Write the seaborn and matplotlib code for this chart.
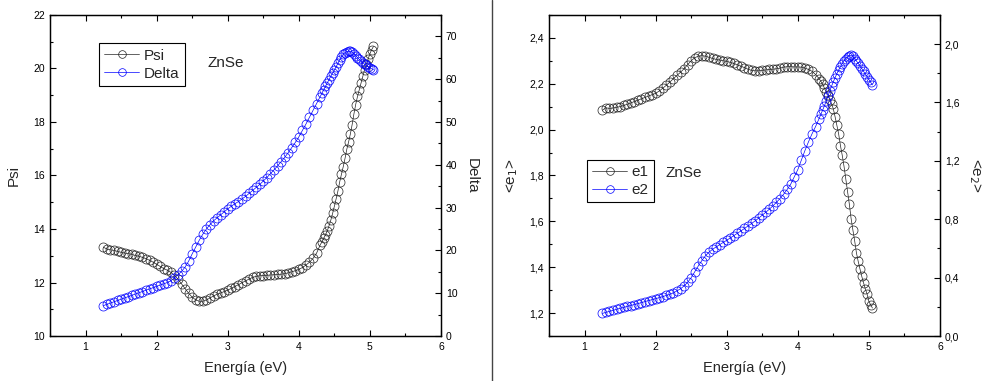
import matplotlib
matplotlib.use("Agg")
import matplotlib.pyplot as plt
from matplotlib.lines import Line2D
from matplotlib.ticker import MultipleLocator, FuncFormatter
import seaborn as sns

# photon energy grid (eV), shared by all four spectra
energy = [1.25, 1.30, 1.35, 1.40, 1.45, 1.50, 1.55, 1.60, 1.65, 1.70,
          1.75, 1.80, 1.85, 1.90, 1.95, 2.00, 2.05, 2.10, 2.15, 2.20,
          2.25, 2.30, 2.35, 2.40, 2.45, 2.50, 2.55, 2.60, 2.65, 2.70,
          2.75, 2.80, 2.85, 2.90, 2.95, 3.00, 3.05, 3.10, 3.15, 3.20,
          3.25, 3.30, 3.35, 3.40, 3.45, 3.50, 3.55, 3.60, 3.65, 3.70,
          3.75, 3.80, 3.85, 3.90, 3.95, 4.00, 4.05, 4.10, 4.15, 4.20,
          4.25, 4.30,
          4.325, 4.35, 4.375, 4.40, 4.425, 4.45, 4.475, 4.50, 4.525, 4.55,
          4.575, 4.60, 4.625, 4.65, 4.675, 4.70, 4.725, 4.75, 4.775, 4.80,
          4.825, 4.85, 4.875, 4.90, 4.925, 4.95, 4.975, 5.00, 5.025, 5.05]

psi = [13.32, 13.25, 13.22, 13.20, 13.16, 13.13, 13.10, 13.08, 13.05, 13.01,
       12.98, 12.94, 12.89, 12.83, 12.76, 12.68, 12.60, 12.52, 12.46, 12.38,
       12.27, 12.12, 11.95, 11.77, 11.60, 11.45, 11.35, 11.30, 11.30, 11.35,
       11.42, 11.50, 11.56, 11.61, 11.66, 11.72, 11.78, 11.85, 11.92, 11.99,
       12.06, 12.13, 12.19, 12.23, 12.25, 12.26, 12.27, 12.28, 12.29, 12.30,
       12.31, 12.33, 12.36, 12.40, 12.44, 12.49, 12.56, 12.65, 12.76, 12.90,
       13.10, 13.40,
       13.52, 13.65, 13.78, 13.93, 14.12, 14.33, 14.58, 14.85, 15.13, 15.42,
       15.76, 16.05, 16.33, 16.64, 16.98, 17.25, 17.55, 17.90, 18.30, 18.65,
       18.95, 19.20, 19.45, 19.70, 19.95, 20.15, 20.35, 20.55, 20.70, 20.82]

delta = [7.1, 7.4, 7.7, 8.0, 8.3, 8.6, 8.9, 9.2, 9.5, 9.8,
         10.1, 10.4, 10.7, 11.0, 11.3, 11.6, 11.9, 12.2, 12.5, 12.9,
         13.6, 14.3, 15.1, 16.1, 17.5, 19.2, 20.8, 22.4, 23.8, 25.0,
         26.0, 26.9, 27.6, 28.3, 29.0, 29.7, 30.3, 30.9, 31.4, 32.0,
         32.6, 33.3, 34.0, 34.7, 35.4, 36.2, 37.0, 37.9, 38.8, 39.7,
         40.7, 41.7, 42.8, 44.0, 45.2, 46.5, 48.0, 49.5, 51.1, 52.7,
         54.3, 55.9,
         56.7, 57.5, 58.3, 59.1, 59.9, 60.7, 61.4, 62.1, 62.9, 63.7,
         64.5, 65.2, 65.8, 66.2, 66.4, 66.5, 66.5, 66.3, 65.9, 65.5,
         65.0, 64.6, 64.2, 63.8, 63.5, 63.2, 62.9, 62.6, 62.4, 62.2]

e1 = [2.084, 2.095, 2.092, 2.094, 2.097, 2.100, 2.105, 2.110, 2.116, 2.122,
      2.128, 2.134, 2.140, 2.146, 2.152, 2.158, 2.168, 2.180, 2.193, 2.207,
      2.222, 2.236, 2.250, 2.265, 2.283, 2.300, 2.313, 2.320, 2.322, 2.320,
      2.315, 2.310, 2.306, 2.303, 2.300, 2.297, 2.293, 2.288, 2.282, 2.276,
      2.270, 2.263, 2.258, 2.256, 2.256, 2.258, 2.260, 2.262, 2.263, 2.265,
      2.268, 2.272, 2.274, 2.274, 2.273, 2.273, 2.272, 2.268, 2.262, 2.254,
      2.240, 2.222,
      2.210, 2.198, 2.180, 2.165, 2.152, 2.130, 2.112, 2.090, 2.055, 2.018,
      1.980, 1.930, 1.888, 1.840, 1.785, 1.730, 1.675, 1.612, 1.562, 1.515,
      1.462, 1.425, 1.392, 1.360, 1.332, 1.305, 1.283, 1.251, 1.236, 1.222]

e2 = [0.155, 0.162, 0.169, 0.176, 0.183, 0.190, 0.196, 0.203, 0.209, 0.216,
      0.222, 0.229, 0.236, 0.243, 0.249, 0.256, 0.263, 0.270, 0.278, 0.286,
      0.296, 0.309, 0.324, 0.343, 0.368, 0.400, 0.440, 0.480, 0.517, 0.549,
      0.574, 0.594, 0.610, 0.626, 0.641, 0.656, 0.672, 0.688, 0.704, 0.720,
      0.737, 0.754, 0.771, 0.789, 0.808, 0.828, 0.848, 0.869, 0.892, 0.916,
      0.942, 0.971, 1.004, 1.040, 1.090, 1.140, 1.205, 1.270, 1.330, 1.385,
      1.435, 1.490,
      1.520, 1.548, 1.578, 1.610, 1.645, 1.680, 1.712, 1.742, 1.770, 1.797,
      1.822, 1.845, 1.866, 1.885, 1.900, 1.912, 1.920, 1.924, 1.915, 1.900,
      1.884, 1.868, 1.850, 1.832, 1.813, 1.795, 1.776, 1.757, 1.738, 1.720]

sns.set_style("ticks")
plt.rcParams['font.family'] = ['Liberation Sans', 'DejaVu Sans']
plt.rcParams['axes.linewidth'] = 0.9
plt.rcParams['axes.edgecolor'] = 'black'
plt.rcParams['xtick.color'] = 'black'
plt.rcParams['ytick.color'] = 'black'

comma = FuncFormatter(lambda v, p: f"{v:.1f}".replace('.', ','))


def draw(ax, y, color, label):
    sns.lineplot(x=energy, y=y, ax=ax, color=color, lw=0.5, marker='o',
                 markersize=6.5, markerfacecolor='none', markeredgecolor=color,
                 markeredgewidth=0.5, label=label, legend=False)
    return ax.get_lines()[-1]


def style(ax, axr):
    ax.set_xlim(0.5, 6)
    ax.xaxis.set_major_locator(MultipleLocator(1))
    ax.xaxis.set_minor_locator(MultipleLocator(0.5))
    ax.tick_params(axis='x', which='both', direction='in', top=True, labelsize=7.5, pad=4)
    ax.tick_params(axis='y', which='both', direction='in', right=False, labelsize=7.5)
    axr.tick_params(axis='y', which='both', direction='in', labelsize=7.5)
    for a in (ax, axr):
        a.tick_params(which='major', length=4, width=0.8)
        a.tick_params(which='minor', length=2.5, width=0.8)
    ax.set_xlabel('Energía (eV)', fontsize=10.5)
    ax.xaxis.set_label_coords(0.5, -0.1)
    ax.xaxis.label.set_va('center')


def legend(ax, handles):
    leg = ax.legend(handles=handles, loc='upper left', fontsize=11, frameon=True,
                    fancybox=False, edgecolor='black', framealpha=1, handlelength=2.3,
                    handletextpad=0.3, labelspacing=0.25, borderpad=0.35,
                    markerscale=0.85)
    leg.get_frame().set_linewidth(0.8)
    return leg


fig = plt.figure(figsize=(9.91, 3.81), dpi=100)

# left panel: Psi and Delta
ax1 = fig.add_axes([0.0505, 0.118, 0.3945, 0.843])
ax2 = ax1.twinx()
h1 = draw(ax1, psi, '#222222', 'Psi')
h2 = draw(ax2, delta, '#0000ff', 'Delta')
ax1.set_ylim(10, 22)
ax1.yaxis.set_major_locator(MultipleLocator(2))
ax1.yaxis.set_minor_locator(MultipleLocator(1))
ax2.set_ylim(0, 75)
ax2.yaxis.set_major_locator(MultipleLocator(10))
ax2.yaxis.set_minor_locator(MultipleLocator(5))
style(ax1, ax2)
ax1.set_ylabel('Psi', fontsize=11)
ax1.yaxis.set_label_coords(-0.092, 0.5)
ax1.yaxis.label.set_va('center')
ax2.set_ylabel('Delta', fontsize=11, rotation=270)
ax2.yaxis.set_label_coords(1.078, 0.5)
ax2.yaxis.label.set_va('center')
leg = legend(ax2, [h1, h2])
leg.set_bbox_to_anchor((0.105, 0.935), transform=ax2.transAxes)
ax2.text(0.404, 0.85, 'ZnSe', transform=ax2.transAxes, fontsize=11, va='center')

# right panel: dielectric function
ax3 = fig.add_axes([0.554, 0.118, 0.3945, 0.843])
ax4 = ax3.twinx()
h3 = draw(ax3, e1, '#222222', 'e1')
h4 = draw(ax4, e2, '#0000ff', 'e2')
ax3.set_ylim(1.1, 2.5)
ax3.yaxis.set_major_locator(MultipleLocator(0.2))
ax3.yaxis.set_minor_locator(MultipleLocator(0.1))
ax3.yaxis.set_major_formatter(comma)
ax4.set_ylim(0, 2.2)
ax4.yaxis.set_major_locator(MultipleLocator(0.4))
ax4.yaxis.set_minor_locator(MultipleLocator(0.2))
ax4.yaxis.set_major_formatter(comma)
style(ax3, ax4)
ax3.set_ylabel('<e$_1$>', fontsize=11)
ax3.yaxis.set_label_coords(-0.095, 0.5)
ax3.yaxis.label.set_va('center')
ax4.set_ylabel('<e$_2$>', fontsize=11, rotation=270)
ax4.yaxis.set_label_coords(1.09, 0.5)
ax4.yaxis.label.set_va('center')
leg = legend(ax4, [h3, h4])
leg.set_bbox_to_anchor((0.077, 0.572), transform=ax4.transAxes)
ax4.text(0.297, 0.507, 'ZnSe', transform=ax4.transAxes, fontsize=11, va='center')

# divider between the two panels
fig.add_artist(Line2D([0.4965, 0.4965], [0.0, 1.0], color='#444444', lw=1.0,
                      transform=fig.transFigure))

fig.savefig('out.png', dpi=100)
